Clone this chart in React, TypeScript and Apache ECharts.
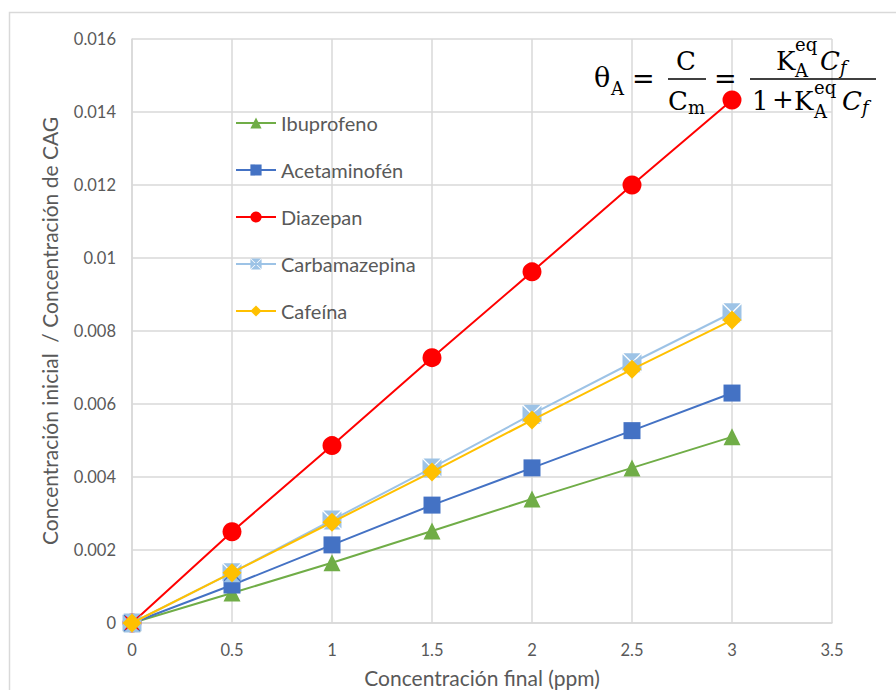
import React, { useEffect, useRef } from "react";
import * as echarts from "echarts";

const xValues = [0, 0.5, 1, 1.5, 2, 2.5, 3];
const ibuprofeno = [0, 0.00082, 0.00165, 0.00252, 0.0034, 0.00425, 0.0051];
const acetaminofen = [0, 0.00104, 0.00214, 0.00323, 0.00425, 0.00527, 0.0063];
const diazepan = [0, 0.0025, 0.00486, 0.00727, 0.00962, 0.0120, 0.01433];
const carbamazepina = [0, 0.00138, 0.00282, 0.00425, 0.00572, 0.00713, 0.0085];
const cafeina = [0, 0.00138, 0.00276, 0.00414, 0.00556, 0.00695, 0.0083];

const CARBA_SYMBOL = "path://M1,0L19,0L10,9ZM20,1L20,19L11,10ZM19,20L1,20L10,11ZM0,19L0,1L9,10Z";

const seriesNames = ["Ibuprofeno", "Acetaminofén", "Diazepan", "Carbamazepina", "Cafeína"];
const seriesColors = ["#70ad47", "#4472c4", "#ff0000", "#9dc3e6", "#ffc000"];
const seriesSymbols = ["triangle", "rect", "circle", CARBA_SYMBOL, "diamond"];
const seriesSizes = [17, 17, 19, 19, 19];
const seriesData = [ibuprofeno, acetaminofen, diazepan, carbamazepina, cafeina];

const xTitle = "Concentración final (ppm)";
const yTitle = "Concentración inicial  / Concentración de CAG";

const FONT = "Lato";
const TEXT = "#595959";
const GRID = "#d9d9d9";
const SERIF = "DejaVu Serif";

function t(text: string, x: number, y: number, size: number, italic = false) {
  return {
    type: "text",
    x,
    y,
    z: 100,
    style: {
      text,
      fontSize: size,
      fontFamily: SERIF,
      fontStyle: italic ? "italic" : "normal",
      fill: "#000",
      textAlign: "left",
      textVerticalAlign: "middle",
    },
  };
}

export default function App() {
  const ref = useRef<HTMLDivElement>(null);
  useEffect(() => {
    if (!ref.current) return;
    const chart = echarts.init(ref.current, undefined, { renderer: "svg" });
    const series = seriesNames.map((name, i) => ({
      name,
      type: "line",
      data: xValues.map((x, j) => [x, seriesData[i][j]]),
      symbol: seriesSymbols[i],
      symbolSize: seriesSizes[i],
      showAllSymbol: true,
      lineStyle: { color: seriesColors[i], width: 2 },
      itemStyle: { color: seriesColors[i] },
      z: 2 + i,
    }));
    chart.setOption({
      animation: false,
      backgroundColor: "#fff",
      grid: { left: 132, right: 64, top: 39, bottom: 67, containLabel: false, outerBoundsMode: "none" },
      xAxis: {
        type: "value",
        min: 0,
        max: 3.5,
        interval: 0.5,
        name: xTitle,
        nameLocation: "middle",
        nameGap: 44,
        nameTextStyle: { fontFamily: FONT, fontSize: 21, color: TEXT },
        axisLine: { show: true, lineStyle: { color: GRID, width: 1.5 } },
        axisTick: { show: false },
        axisLabel: { fontFamily: FONT, fontSize: 16.5, color: TEXT, margin: 18 },
        splitLine: { show: true, lineStyle: { color: GRID, width: 1.5 } },
      },
      yAxis: {
        type: "value",
        min: 0,
        max: 0.016,
        interval: 0.002,
        name: yTitle,
        nameLocation: "middle",
        nameGap: 72,
        nameTextStyle: { fontFamily: FONT, fontSize: 21, color: TEXT },
        axisLine: { show: true, lineStyle: { color: GRID, width: 1.5 } },
        axisTick: { show: false },
        axisLabel: {
          fontFamily: FONT,
          fontSize: 16.5,
          color: TEXT,
          margin: 16,
          formatter: (v: number) => String(parseFloat(v.toFixed(4))),
        },
        splitLine: { show: true, lineStyle: { color: GRID, width: 1.5 } },
      },
      legend: {
        orient: "vertical",
        left: 235,
        top: 113,
        padding: 0,
        itemWidth: 40,
        itemHeight: 14,
        itemGap: 27,
        textStyle: { fontFamily: FONT, fontSize: 20, lineHeight: 20, color: TEXT },
        data: seriesNames,
      },
      graphic: [
        {
          type: "rect",
          z: -1,
          shape: { x: 9.5, y: 12.5, width: 1000, height: 1000 },
          style: { fill: "none", stroke: GRID, lineWidth: 1.5 },
        },
        t("θ", 594, 77, 27),
        t("A", 611, 88, 18),
        t("=", 632, 78, 27),
        t("C", 676, 61, 26),
        { type: "line", z: 100, shape: { x1: 668, y1: 79, x2: 706, y2: 79 }, style: { stroke: "#000", lineWidth: 1.5 } },
        t("C", 668, 101, 26),
        t("m", 688, 107, 18),
        t("=", 714, 78, 27),
        { type: "line", z: 100, shape: { x1: 750, y1: 79, x2: 876, y2: 79 }, style: { stroke: "#000", lineWidth: 1.5 } },
        t("K", 776, 61, 26),
        t("A", 795, 70, 18),
        t("eq", 795, 44, 18),
        t("C", 820, 61, 26, true),
        t("f", 840, 67, 18, true),
        t("1", 752, 101, 26),
        t("+", 772, 99, 26),
        t("K", 794, 101, 26),
        t("A", 814, 111, 18),
        t("eq", 814, 87, 18),
        t("C", 842, 101, 26, true),
        t("f", 862, 107, 18, true),
      ],
      series,
    });
    return () => chart.dispose();
  }, []);
  return <div ref={ref} style={{ position: "fixed", left: 0, top: 0, width: 896, height: 690 }} />;
}
